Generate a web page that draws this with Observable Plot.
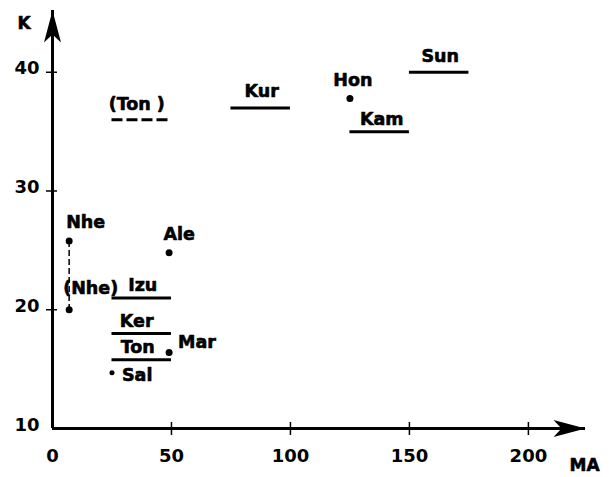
<!DOCTYPE html>
<html>
<head>
<meta charset="utf-8">
<script src="https://cdn.jsdelivr.net/npm/d3@7"></script>
<script src="https://cdn.jsdelivr.net/npm/@observablehq/plot@0.6"></script>
<style>
  html, body { margin: 0; padding: 0; background: #fff; }
  #chart svg { display: block; }
</style>
</head>
<body>
<div id="chart"></div>
<script>
// ---- Data ----
// Horizontal segments (age range MA, K value)
const segNames = ["(Ton )", "Kur", "Kam", "Sun", "Izu", "Ker", "Ton"];
const segX1    = [25, 75, 125, 150, 25, 25, 25];
const segX2    = [50, 100, 150, 175, 50, 50, 50];
const segY     = [36, 37, 35, 40, 21, 18, 15.8];
const segDashed = ["(Ton )"];

// Single points
const ptNames = ["Hon", "Nhe", "(Nhe)", "Ale", "Mar", "Sal"];
const ptX     = [125, 7, 7, 49, 49, 25];
const ptY     = [37.8, 25.8, 20, 24.8, 16.4, 14.7];

// Axis ticks and labels
const xTicks = [0, 50, 100, 150, 200];
const yTicks = [10, 20, 30, 40];
const xAxisLabel = "MA";
const yAxisLabel = "K";
const xMax = 224, yMin = 10, yMax = 45.2;

// ---- Build tables ----
const segments = segNames.map((n, i) => ({name: n, x1: segX1[i], x2: segX2[i], y: segY[i], mid: (segX1[i] + segX2[i]) / 2}));
const points = ptNames.map((n, i) => ({name: n, x: ptX[i], y: ptY[i]}));
const nhe = points.find(d => d.name === "Nhe");
const nhe2 = points.find(d => d.name === "(Nhe)");

// label placement (styling, pixels)
const labelStyle = {
  "(Ton )": {dx: -5, dy: -15, anchor: "middle"},
  "Kur":    {dx: 1,  dy: -16, anchor: "middle"},
  "Kam":    {dx: 2,  dy: -12, anchor: "middle"},
  "Sun":    {dx: 1,  dy: -16, anchor: "middle"},
  "Izu":    {dx: 1,  dy: -12, anchor: "middle"},
  "Ker":    {dx: -5, dy: -12, anchor: "middle"},
  "Ton":    {dx: -4, dy: -12, anchor: "middle"},
  "Hon":    {dx: 3,  dy: -18, anchor: "middle"},
  "Nhe":    {dx: -3, dy: -18, anchor: "start"},
  "(Nhe)":  {dx: -6, dy: -21, anchor: "start"},
  "Ale":    {dx: 10, dy: -18, anchor: "middle"},
  "Mar":    {dx: 9,  dy: -10, anchor: "start"},
  "Sal":    {dx: 10, dy: 3,   anchor: "start"}
};

// dart-shaped arrow head, tip at the origin, pointing up
const dart = {
  draw(ctx, size) {
    const s = Math.sqrt(size / Math.PI) / 10;
    ctx.moveTo(0, 0);
    ctx.lineTo(-8.5 * s, 32 * s);
    ctx.lineTo(0, 24 * s);
    ctx.lineTo(8.5 * s, 32 * s);
    ctx.closePath();
  }
};

const FONT = "'DejaVu Sans', 'Liberation Sans', Arial, sans-serif";
const heavy = {stroke: "black", strokeWidth: 0.6, fill: "black"};
const labelFont = {fontSize: 17.5, fontWeight: "bold", letterSpacing: "0.5px", fontFamily: FONT, ...heavy};

const labelMarks = [
  ...segments.map(d => Plot.text([d], {x: "mid", y: "y", text: "name", dx: labelStyle[d.name].dx, dy: labelStyle[d.name].dy, textAnchor: labelStyle[d.name].anchor, ...labelFont})),
  ...points.map(d => Plot.text([d], {x: "x", y: "y", text: "name", dx: labelStyle[d.name].dx, dy: labelStyle[d.name].dy, textAnchor: labelStyle[d.name].anchor, ...labelFont}))
];

const chart = Plot.plot({
  width: 612,
  height: 477,
  marginLeft: 52,
  marginRight: 27,
  marginTop: 10,
  marginBottom: 49,
  x: {domain: [0, xMax]},
  y: {domain: [yMin, yMax]},
  style: {fontFamily: FONT, fontWeight: "bold", color: "black", background: "white"},
  marks: [
    // axis lines
    Plot.ruleY([yMin], {stroke: "black", strokeWidth: 3}),
    Plot.ruleX([0], {stroke: "black", strokeWidth: 3}),
    // arrow heads
    Plot.dot([{x: xMax, y: yMin}], {x: "x", y: "y", symbol: dart, r: 10, fill: "black", stroke: "none", rotate: 90}),
    Plot.dot([{x: 0, y: yMax}], {x: "x", y: "y", symbol: dart, r: 10, fill: "black", stroke: "none"}),
    // crossing ticks
    Plot.axisX({ticks: xTicks.filter(v => v > 0), tickSize: 13, dy: -6, text: null, label: null, strokeWidth: 1.5}),
    Plot.axisY({ticks: yTicks.filter(v => v > yMin), tickSize: 11, dx: 5, text: null, label: null, strokeWidth: 1.5}),
    // tick labels
    Plot.axisX({ticks: xTicks, tickSize: 0, tickPadding: 21, label: null, fontSize: 18, fontWeight: "bold", fontFamily: FONT, letterSpacing: "1.5px", tickFormat: d => String(d), ...heavy}),
    Plot.axisY({ticks: yTicks, tickSize: 0, tickPadding: 13, label: null, fontSize: 18, fontWeight: "bold", fontFamily: FONT, letterSpacing: "0.5px", lineAnchor: "bottom", dy: 2, tickFormat: d => String(d), ...heavy}),
    // axis titles
    Plot.text([yAxisLabel], {frameAnchor: "top-left", text: d => d, dx: -35, dy: 13, textAnchor: "start", lineAnchor: "middle", fontSize: 17, fontWeight: "bold", fontFamily: FONT, ...heavy}),
    Plot.text([xAxisLabel], {frameAnchor: "bottom-right", text: d => d, dx: -16, dy: 37, textAnchor: "start", lineAnchor: "middle", fontSize: 17, fontWeight: "bold", fontFamily: FONT, ...heavy}),
    // segments
    Plot.ruleY(segments.filter(d => !segDashed.includes(d.name)), {x1: "x1", x2: "x2", y: "y", stroke: "black", strokeWidth: 3}),
    Plot.ruleY(segments.filter(d => segDashed.includes(d.name)), {x1: "x1", x2: "x2", y: "y", stroke: "black", strokeWidth: 3, strokeDasharray: "11,4"}),
    // Nhe connector
    Plot.link([{x1: nhe.x, y1: nhe.y, x2: nhe2.x, y2: nhe2.y}], {x1: "x1", y1: "y1", x2: "x2", y2: "y2", stroke: "black", strokeWidth: 1.5, strokeDasharray: "6,3"}),
    // points
    Plot.dot(points.filter(d => d.name !== "Sal"), {x: "x", y: "y", r: 3.5, fill: "black", stroke: "none"}),
    Plot.dot(points.filter(d => d.name === "Sal"), {x: "x", y: "y", r: 2.5, fill: "black", stroke: "none"}),
    // labels
    ...labelMarks
  ]
});
document.getElementById("chart").append(chart);
</script>
</body>
</html>
